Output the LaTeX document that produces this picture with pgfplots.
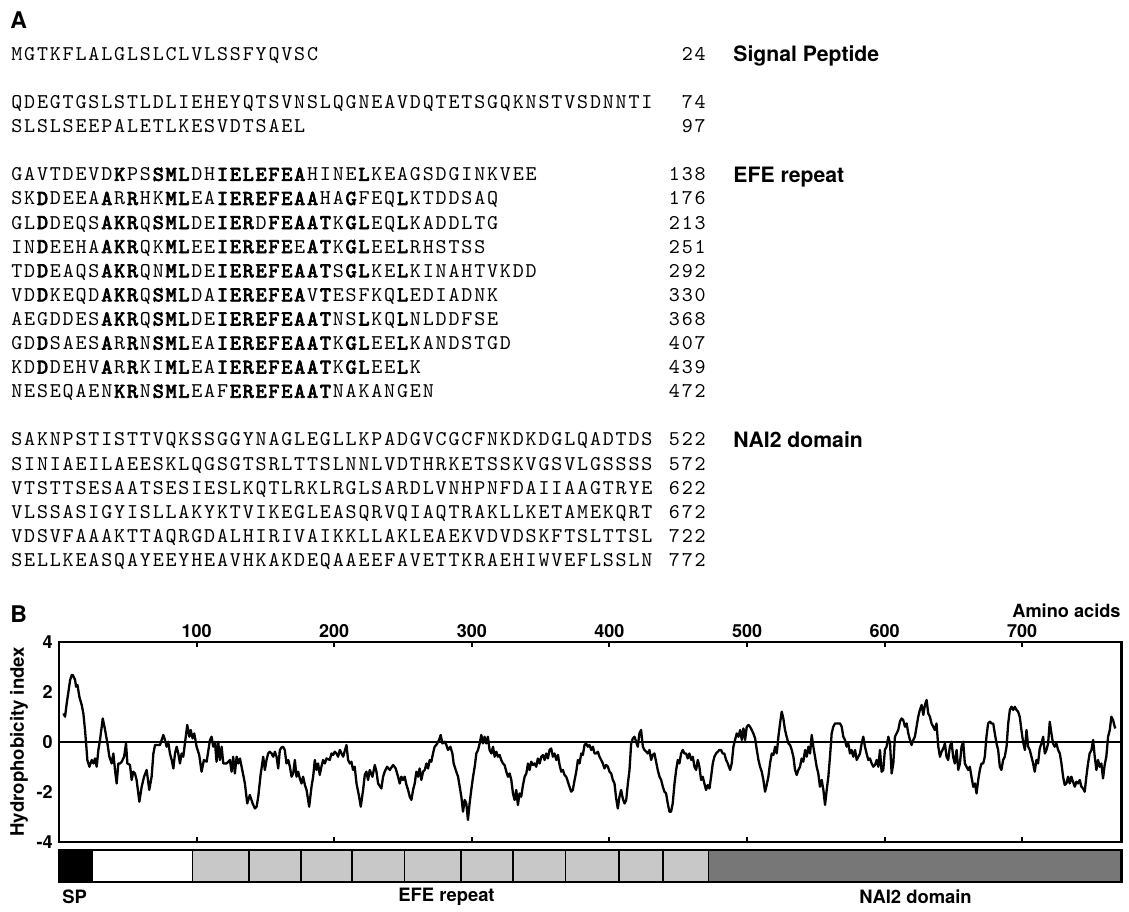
\documentclass[border=0pt]{standalone}
\usepackage{pgfplots}
\pgfplotsset{compat=1.18}
\usepackage{fontspec}
\setmainfont{TeX Gyre Heros}
\newfontfamily\seqfont{Latin Modern Mono}[AutoFakeBold=3.6]
\definecolor{lgray}{HTML}{C8C8C8}
\definecolor{dgray}{HTML}{777777}

\newif\ifsb
\newlength\cw \setlength\cw{6.43pt}
\def\sqstop{\sqstop}
\def\sq#1{\sbfalse\sqloop#1\sqstop}
\def\sqloop#1{\ifx#1\sqstop\else\ifx#1*\ifsb\sbfalse\else\sbtrue\fi\else\makebox[\cw][c]{\ifsb\bfseries\fi#1}\fi\expandafter\sqloop\fi}
\newcommand\seqf{\seqfont\fontsize{10.5}{12}\selectfont}
\newcommand\seqrow[3]{%
  \node[anchor=base west,inner sep=0pt] at (10,{60.3+24.1*#1}) {\seqf\sq{#2}};
  \node[anchor=base east,inner sep=0pt] at (707,{60.3+24.1*#1}) {\seqf\sq{#3}};}
\newcommand\lab[2]{\node[anchor=base west,inner sep=0pt,font=\fontsize{10.6}{12}\selectfont\bfseries] at (733,{61.6+24.1*#1}) {#2};}

\begin{document}
\begin{tikzpicture}
\useasboundingbox (0,0) rectangle (564.5pt,-455.5pt);
\begin{scope}[x=0.5pt,y=-0.5pt]
\node[anchor=west,inner sep=0pt,font=\fontsize{11.5}{13}\selectfont\bfseries] at (10,20) {A};
\seqrow{0}{MGTKFLALGLSLCLVLSSFYQVSC}{24}
\lab{0}{Signal Peptide}
\seqrow{2}{QDEGTGSLSTLDLIEHEYQTSVNSLQGNEAVDQTETSGQKNSTVSDNNTI}{74}
\seqrow{3}{SLSLSEEPALETLKESVDTSAEL}{97}
\seqrow{5}{GAVTDEVD*K*PS*SML*DH*IELEFEA*HINE*L*KEAGSDGINKVEE}{138}
\lab{5}{EFE repeat}
\seqrow{6}{SK*D*DEEA*A*R*R*HK*ML*EA*IEREFEAA*HA*G*FEQ*L*KTDDSAQ}{176}
\seqrow{7}{GL*D*DEQS*AKR*Q*SML*DE*IER*D*FEAAT*K*GL*EQ*L*KADDLTG}{213}
\seqrow{8}{IN*D*EEHA*AKR*QK*ML*EE*IEREFE*E*AT*K*GL*EE*L*RHSTSS}{251}
\seqrow{9}{TD*D*EAQS*AKR*QN*ML*DE*IEREFEAAT*S*GL*KE*L*KINAHTVKDD}{292}
\seqrow{10}{VD*D*KEQD*AKR*Q*SML*DA*IEREFEA*V*T*ESFKQ*L*EDIADNK}{330}
\seqrow{11}{AEGDDES*AKR*Q*SML*DE*IEREFEAAT*NS*L*KQ*L*NLDDFSE}{368}
\seqrow{12}{GD*D*SAES*A*R*R*N*SML*EA*IEREFEAAT*K*GL*EE*L*KANDSTGD}{407}
\seqrow{13}{KD*D*DEHV*A*R*R*KI*ML*EA*IEREFEAAT*K*GL*EE*L*K}{439}
\seqrow{14}{NESEQAEN*KR*N*SML*EAF*EREFEAAT*NAKANGEN}{472}
\seqrow{16}{SAKNPSTISTTVQKSSGGYNAGLEGLLKPADGVCGCFNKDKDGLQADTDS}{522}
\lab{16}{NAI2 domain}
\seqrow{17}{SINIAEILAEESKLQGSGTSRLTTSLNNLVDTHRKETSSKVGSVLGSSSS}{572}
\seqrow{18}{VTSTTSESAATSESIESLKQTLRKLRGLSARDLVNHPNFDAIIAAGTRYE}{622}
\seqrow{19}{VLSSASIGYISLLAKYKTVIKEGLEASQRVQIAQTRAKLLKETAMEKQRT}{672}
\seqrow{20}{VDSVFAAAKTTAQRGDALHIRIVAIKKLLAKLEAEKVDVDSKFTSLTTSL}{722}
\seqrow{21}{SELLKEASQAYEEYHEAVHKAKDEQAAEEFAVETTKRAEHIWVEFLSSLN}{772}
\node[anchor=west,inner sep=0pt,font=\fontsize{11.5}{13}\selectfont\bfseries] at (10,614) {B};
\node[anchor=east,inner sep=0pt,font=\fontsize{9.1}{11}\selectfont\bfseries] at (1121,610.5) {Amino acids};
\node[rotate=90,inner sep=0pt,font=\fontsize{9.3}{11}\selectfont\bfseries] at (19,741.7) {Hydrophobicity index};
\node[anchor=west,inner sep=0pt,font=\fontsize{9.2}{11}\selectfont\bfseries] at (62,897) {SP};
\node[inner sep=0pt,font=\fontsize{9.2}{11}\selectfont\bfseries] at (446.5,897) {EFE repeat};
\node[inner sep=0pt,font=\fontsize{9.2}{11}\selectfont\bfseries] at (915.5,897) {NAI2 domain};
\end{scope}

\begin{axis}[
  at={(29.5pt,-420.85pt)}, anchor=south west,
  width=531.15pt, height=100pt, scale only axis,
  xmin=0, xmax=772, ymin=-4, ymax=4,
  xtick={100,200,300,400,500,600,700},
  ytick={-4,-2,0,2,4},
  xticklabel pos=upper,
  xtick pos=both,
  ytick pos=left,
  tick align=inside,
  major tick length=2.5pt,
  xtick style={line width=1pt, black},
  ytick style={draw=none},
  axis line style={line width=1.2pt},
  ticklabel style={font=\fontsize{9}{10}\selectfont\bfseries},
  xticklabel style={inner sep=0pt, yshift=1.8pt},
  yticklabel style={inner sep=0pt, xshift=-3pt},
  /pgf/number format/assume math mode=true,
]
\addplot[black, line width=0.8pt, forget plot] coordinates {(0,0) (772,0)};
\addplot[black, line width=1.15pt, line join=round] coordinates {
(3.2,1.13)(4.4,1.00)(5.6,1.53)(8.1,2.47)(9.3,2.67)(10.0,2.67)(11.7,2.47)(12.4,2.20)(13.4,2.27)(14.8,1.80)(16.5,1.47)(17.7,1.13)(18.9,0.47)(19.7,-0.07)(20.6,-0.73)(22.1,-1.00)(23.8,-0.73)(25.0,-0.87)(26.2,-0.67)(27.4,-1.00)(28.6,-0.33)(29.8,0.07)(31.8,0.93)(33.5,0.47)(35.2,-0.07)(36.6,-0.60)(38.3,-0.87)(39.5,-0.47)(40.7,-1.13)(41.9,-1.67)(43.1,-0.87)(44.4,-0.87)(45.6,-0.80)(47.3,-0.60)(48.7,-0.07)(49.7,-0.87)(51.6,-0.93)(52.8,-1.53)(54.0,-1.20)(55.2,-1.27)(56.4,-1.53)(58.4,-2.40)(60.1,-1.80)(61.8,-1.40)(63.7,-1.13)(65.6,-1.93)(67.3,-1.40)(68.6,-0.47)(69.8,-0.13)(71.0,-0.13)(73.4,-0.13)(75.8,0.27)(77.0,0.07)(78.2,-0.20)(79.4,0.00)(80.6,-0.47)(81.9,-0.73)(83.1,-1.07)(84.3,-0.47)(85.5,-0.20)(86.7,-0.47)(87.9,-0.87)(89.1,-0.47)(90.3,-0.60)(91.5,-0.07)(93.2,0.67)(94.7,0.20)(95.7,0.47)(97.1,0.13)(98.3,0.33)(100.0,-0.20)(101.9,-0.53)(103.6,-1.20)(105.3,-0.73)(107.3,-0.80)(109.7,0.07)(110.9,0.20)(112.1,-0.20)(113.3,0.00)(114.5,-0.80)(115.7,0.00)(116.9,-0.73)(118.2,-0.20)(119.4,-0.87)(121.8,-0.87)(124.2,-0.73)(125.4,-1.20)(126.6,-0.60)(127.8,-1.27)(129.1,-0.60)(130.3,-0.87)(131.5,-0.67)(132.7,-1.00)(135.1,-1.67)(136.8,-2.47)(138.7,-2.13)(140.7,-2.47)(142.4,-2.67)(143.6,-2.60)(144.8,-2.20)(146.5,-1.33)(148.4,-0.60)(149.6,-1.13)(150.8,-0.73)(152.0,-0.47)(153.2,-0.40)(154.5,-0.47)(155.7,-0.60)(156.9,-0.40)(158.1,-0.60)(159.3,-1.07)(160.5,-0.33)(161.7,-0.23)(162.9,-0.20)(164.1,-0.33)(165.3,-0.87)(166.6,-0.73)(167.8,-1.00)(169.0,-1.40)(170.2,-1.27)(171.4,-0.73)(172.6,-1.40)(173.8,-1.20)(175.0,-1.47)(176.2,-1.67)(177.4,-1.40)(178.7,-1.73)(179.9,-1.93)(181.8,-2.60)(183.5,-1.80)(184.7,-1.40)(185.9,-0.73)(187.1,-1.13)(188.3,-0.87)(189.5,-1.33)(190.7,-1.00)(191.9,-0.73)(193.2,-0.87)(194.4,-0.67)(196.8,-0.73)(198.0,-0.47)(199.2,-0.53)(200.4,-0.40)(201.6,-0.47)(202.8,-0.60)(204.1,-0.33)(206.5,-0.60)(208.9,-0.13)(210.1,-0.73)(211.3,-0.87)(212.5,-0.80)(213.7,-1.13)(214.9,-1.00)(216.2,-1.67)(218.1,-2.20)(219.3,-2.60)(221.0,-1.93)(222.2,-1.33)(223.4,-1.20)(224.6,-1.53)(225.8,-1.13)(227.8,-1.40)(229.5,-0.93)(230.7,-1.20)(231.9,-1.67)
(234.3,-1.87)(235.5,-1.40)(236.7,-1.20)(238.4,-1.00)(240.4,-1.13)(242.8,-0.93)(244.7,-1.07)(246.4,-1.40)(247.6,-1.67)(248.8,-1.40)(250.0,-1.53)(251.2,-1.40)(252.5,-1.73)(253.7,-1.93)(254.9,-2.20)(256.1,-2.33)(257.3,-1.93)(258.5,-1.67)(259.7,-1.20)(260.9,-1.40)(262.1,-1.07)(263.3,-1.53)(264.6,-1.20)(265.8,-1.13)(267.0,-0.87)(268.2,-1.07)(269.4,-0.73)(270.6,-0.80)(271.8,-0.47)(273.0,-0.20)(274.2,-0.13)(276.2,0.07)(277.4,0.27)(278.6,-0.07)(280.3,0.00)(281.5,-0.13)(282.7,-0.33)(284.4,-0.20)(285.9,-0.47)(286.8,-0.87)(288.3,-1.13)(290.0,-1.40)(291.2,-1.80)(292.4,-2.20)(293.6,-2.80)(294.8,-2.33)(296.0,-2.47)(297.2,-3.13)(298.4,-2.47)(299.6,-1.93)(300.9,-1.40)(302.1,-1.00)(303.3,-0.47)(304.5,-0.33)(305.7,-0.07)(306.9,0.27)(308.1,-0.07)(309.3,0.20)(310.5,-0.07)(311.7,0.20)(312.9,-0.33)(314.2,-0.47)(315.4,-0.20)(316.6,-0.60)(317.8,-0.40)(319.0,-0.60)(320.2,-0.53)(321.4,-0.73)(322.6,-0.87)(323.8,-0.93)(325.1,-1.20)(326.3,-1.40)(327.5,-1.27)(328.7,-1.53)(329.9,-2.07)(331.1,-2.33)(332.3,-1.93)(333.5,-2.53)(334.7,-2.07)(335.9,-2.20)(337.2,-1.73)(338.4,-1.40)(339.6,-1.27)(340.8,-0.87)(342.0,-1.13)(343.2,-0.80)(344.4,-0.93)(345.6,-0.87)(346.8,-1.00)(348.0,-0.67)(349.3,-0.87)(350.5,-0.60)(351.7,-0.53)(352.9,-0.73)(354.1,-0.47)(355.3,-0.67)(356.5,-0.33)(357.7,-0.27)(358.9,-0.60)(360.1,-0.47)(361.4,-0.73)(362.6,-0.53)(363.8,-0.93)(365.0,-1.20)(366.2,-1.13)(367.4,-1.33)(368.6,-1.40)(369.8,-1.60)(371.0,-1.80)(372.2,-2.00)(373.4,-1.93)(374.7,-1.53)(375.9,-1.20)(377.1,-0.73)(378.3,-0.87)(379.5,-0.47)(380.7,-0.53)(381.9,-0.13)(383.1,-0.07)(384.3,-0.20)(385.5,-0.13)(386.8,-0.33)(388.0,-0.20)(389.2,-0.47)(390.4,-0.47)(391.6,-0.40)(392.8,-0.60)(394.0,-0.73)(395.2,-0.87)(396.4,-1.07)(397.6,-0.93)(398.9,-1.00)(400.1,-1.20)(401.3,-1.27)(402.5,-1.53)(403.7,-1.67)(404.9,-2.27)(406.1,-2.67)(407.3,-2.20)(408.5,-1.93)(409.7,-2.27)(411.0,-2.47)(412.2,-2.33)(413.4,-1.67)(414.6,-1.13)(415.8,-0.07)(417.0,0.13)(418.2,0.20)(419.4,0.00)(420.6,-0.20)(421.8,0.33)(423.0,0.47)(424.3,-0.20)(425.5,-0.33)(426.7,-0.40)(427.9,-0.47)(429.1,-0.33)(430.3,-0.73)(431.5,-0.53)(432.7,-0.47)(433.9,-0.80)(435.1,-1.13)(436.4,-1.40)(437.6,-1.53)(438.8,-1.80)(440.0,-2.00)(441.2,-2.07)(442.4,-2.47)(443.6,-2.80)(444.8,-2.80)(446.0,-2.47)(447.3,-1.67)(448.5,-1.13)(449.7,-0.73)(450.9,-0.87)(452.1,-0.47)(453.3,-0.33)(454.5,-0.47)(455.7,-0.47)(456.9,-0.67)(458.1,-0.47)(459.4,-0.73)(460.6,-0.60)(461.8,-1.00)(463.0,-1.13)(464.2,-0.73)(465.4,-1.00)(466.6,-1.53)(467.8,-1.40)(469.0,-1.67)(470.2,-1.93)(471.5,-1.73)(472.7,-1.87)(473.9,-1.40)(475.1,-0.87)(476.3,-0.60)(477.5,-0.47)(478.7,-0.40)(479.9,-0.33)(481.1,-0.33)(482.3,-0.47)(483.5,-0.47)(484.8,-0.73)(486.0,-0.87)
(487.7,-1.13)(488.9,-0.87)(490.1,-0.20)(491.3,0.07)(492.5,0.33)(493.8,0.20)(495.0,0.47)(496.2,0.07)(497.4,0.53)(498.6,0.07)(499.8,0.60)(501.0,0.67)(502.2,0.60)(503.4,0.47)(504.6,0.33)(505.9,0.13)(507.1,-0.33)(508.3,-0.73)(509.5,-1.00)(510.7,-1.20)(511.9,-1.53)(513.1,-2.00)(514.3,-1.73)(515.5,-1.40)(516.7,-0.87)(518.0,-0.47)(519.2,-0.53)(520.4,-0.20)(521.6,-0.47)(522.8,0.20)(524.0,0.73)(525.2,1.20)(526.4,0.93)(527.6,0.47)(528.8,0.20)(530.1,-0.07)(531.3,-0.13)(532.5,-0.33)(533.7,-0.60)(534.9,-1.13)(536.1,-1.33)(537.3,-1.13)(538.5,-1.00)(539.7,-0.67)(540.9,-0.80)(542.2,-0.33)(543.4,-0.60)(544.6,-0.20)(545.8,-0.47)(547.0,0.27)(548.2,-0.20)(549.4,-0.60)(550.6,-1.00)(551.8,-1.27)(553.0,-1.80)(554.3,-1.53)(555.5,-1.93)(556.7,-2.53)(557.9,-1.93)(559.1,-1.40)(560.3,-0.60)(561.5,0.33)(562.7,0.60)(563.9,0.73)(566.4,0.73)(567.6,0.73)(568.8,0.60)(570.0,0.20)(571.2,0.07)(572.4,-0.20)(573.6,-0.07)(574.8,-0.47)(576.0,-0.33)(577.2,-0.60)(578.5,-0.33)(579.7,-0.73)(580.9,-0.60)(582.1,-0.47)(583.3,-0.07)(584.5,0.20)(585.7,-0.20)(586.9,-0.47)(588.1,-0.73)(589.3,-0.67)(590.6,-0.87)(591.8,-1.00)(593.0,-0.93)(594.2,-0.73)(595.4,-1.00)(596.6,-0.33)(597.8,-1.20)(599.0,-1.13)(600.2,-0.33)(601.4,-0.20)(602.7,0.20)(603.9,-0.07)(605.1,-1.27)(606.3,-0.87)(607.5,0.20)(608.7,0.33)(609.9,0.47)(611.1,0.80)(612.3,0.93)(613.5,0.87)(614.8,0.60)(616.0,0.73)(617.2,0.33)(618.4,0.07)(619.6,-0.13)(620.8,0.07)(622.0,0.20)(623.2,0.60)(624.4,1.00)(625.6,1.27)(626.9,1.47)(628.1,1.07)(629.3,1.47)(630.5,1.67)(631.7,1.13)(632.9,1.00)(634.1,0.73)(635.3,0.60)(636.5,0.47)(637.7,0.73)(639.0,-0.20)(640.2,-0.60)(641.4,-0.40)(642.6,-0.27)(643.8,-0.07)(645.0,-0.60)(646.2,-0.73)(647.4,-0.20)(648.6,0.00)(649.8,-0.60)(651.0,-0.87)(652.3,-0.33)(653.5,-1.13)(654.7,-0.87)(655.9,-0.20)(657.1,0.00)(658.3,-0.87)(659.5,-1.00)(660.7,-1.13)(661.9,-1.00)(663.1,-1.40)(664.4,-1.80)(665.6,-1.67)(666.8,-2.07)(668.0,-1.53)(669.2,-1.13)(670.4,-0.87)(671.6,-0.87)(672.8,-0.60)(674.0,0.20)(675.2,0.73)(676.5,0.80)(677.7,0.73)(678.9,0.73)(680.1,0.33)(681.3,-0.07)(682.5,-0.33)(683.7,-1.00)(684.9,-1.13)(686.1,-0.73)(687.3,-0.60)(688.6,-0.20)(689.8,0.73)(691.0,1.27)(692.2,1.40)(693.4,1.27)(694.6,1.40)(695.8,1.27)(697.0,1.20)(698.2,1.00)(699.4,0.47)(700.6,0.00)(701.9,-0.33)(703.1,0.47)(704.3,-0.20)(705.5,-0.33)(706.7,-0.60)(707.9,-0.87)(709.1,-1.20)(710.3,-0.73)(711.5,-0.87)(712.7,-0.27)(714.0,-0.07)(715.2,0.20)(716.4,-0.47)(717.6,-0.33)(718.8,-0.07)(720.0,0.80)(721.2,0.33)(722.4,-0.07)(723.6,-0.20)(724.8,-0.07)(726.1,-0.33)(727.3,-0.47)(728.5,-0.87)(729.7,-1.40)(730.9,-1.73)(732.1,-1.67)(733.3,-1.40)(734.5,-1.67)(735.7,-1.40)(736.9,-1.60)(738.2,-1.80)(739.4,-1.60)(740.6,-1.67)(741.8,-1.53)(743.0,-1.80)(744.2,-1.87)(745.4,-2.00)(746.6,-1.40)(747.8,-0.87)(749.0,-0.47)(750.3,-0.33)(751.5,0.07)(752.7,-0.60)(753.9,-1.13)(755.1,-0.73)(756.3,-1.00)(757.5,-0.87)(758.7,-1.47)(759.9,-0.93)(761.1,-0.60)(762.4,0.20)(763.6,0.47)(764.8,1.00)(766.0,0.87)(767.2,0.60)(767.7,0.53)
};
\end{axis}

\begin{axis}[
  at={(29.5pt,-440.85pt)}, anchor=south west,
  width=531.15pt, height=15.85pt, scale only axis,
  xmin=0, xmax=772, ymin=0, ymax=1,
  xtick=\empty, ytick=\empty,
  axis line style={line width=1.2pt},
  axis on top,
]
\addplot[fill=black, draw=black, line width=0.8pt] coordinates {(0,1) (24,1)} \closedcycle;
\addplot[fill=white, draw=black, line width=0.8pt] coordinates {(24,1) (97,1)} \closedcycle;
\addplot[fill=lgray, draw=black, line width=0.8pt] coordinates {(97,1) (472,1)} \closedcycle;
\addplot[ycomb, black, line width=0.8pt, mark=none] coordinates {(138,1) (176,1) (213,1) (251,1) (292,1) (330,1) (368,1) (407,1) (439,1)};
\addplot[fill=dgray, draw=black, line width=0.8pt] coordinates {(472,1) (772,1)} \closedcycle;
\end{axis}
\end{tikzpicture}
\end{document}
